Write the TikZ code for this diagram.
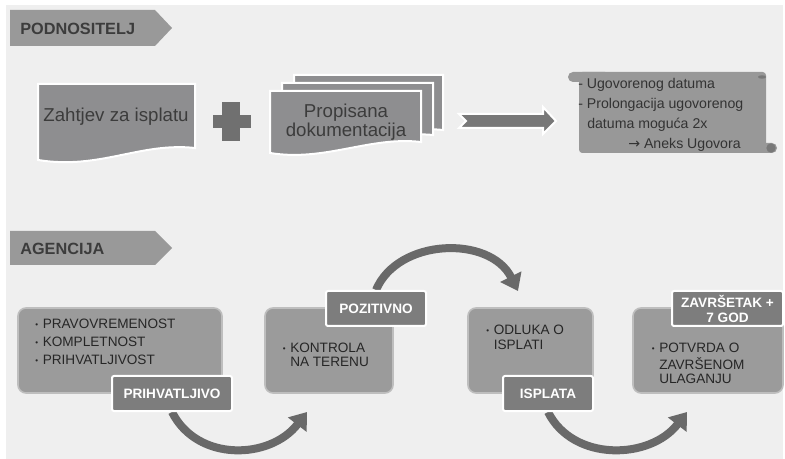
\documentclass[tikz,border=0pt]{standalone}
\usepackage{fontspec}
\setmainfont{Liberation Sans}
\newfontfamily\symfont{DejaVu Sans}
\usetikzlibrary{arrows.meta,backgrounds}

\definecolor{bggray}{RGB}{239,239,239}
\definecolor{headgray}{RGB}{153,153,153}
\definecolor{docgray}{RGB}{142,142,144}
\definecolor{plusgray}{RGB}{112,112,112}
\definecolor{boxgray}{RGB}{155,155,155}
\definecolor{boxline}{RGB}{190,190,190}
\definecolor{taggray}{RGB}{125,125,125}
\definecolor{arrgray}{RGB}{105,105,105}
\definecolor{textgray}{RGB}{60,60,60}
\definecolor{scrollgray}{RGB}{152,152,152}
\definecolor{scrolldark}{RGB}{120,120,120}

% bullet hanging to the left of a list line
\newcommand{\stavka}{\llap{\raisebox{1pt}{\fontsize{6}{6}\selectfont •}\hspace{3.5pt}}}

\tikzset{every picture/.style={line width=0.75pt},
  docpage/.style={fill=docgray, draw=white, line width=1.5pt},
  doctext/.style={text=textgray, align=center, font=\fontsize{14}{14.25}\selectfont},
  header/.style={fill=headgray},
  headtext/.style={anchor=west, inner sep=0pt, text=textgray, font=\fontsize{12.2}{14}\selectfont\bfseries},
  stagebox/.style={fill=boxgray, draw=boxline, line width=1.2pt, rounded corners=6pt, minimum height=63.75pt},
  tag/.style={fill=taggray, draw=white, line width=1.5pt, rounded corners=1.5pt, text=white, align=center,
    font=\fontsize{10.2}{11.25}\selectfont\bfseries, minimum height=26.25pt, inner sep=2pt},
  list/.style={anchor=base west, inner sep=0pt, text=black!85, font=\fontsize{10.2}{10.5}\selectfont},
  flow/.style={draw=arrgray, line width=6pt, -{Triangle[length=12pt,width=17pt]}}
}

\begin{document}
\begin{tikzpicture}[x=0.75pt,y=0.75pt,yscale=-1,xscale=1]
\path[use as bounding box] (0,0) rectangle (785,459);
\begin{pgfonlayer}{background}
\fill[white] (0,0) rectangle (785,459);
\fill[bggray] (6,5) rectangle (783,459);
\end{pgfonlayer}

%Header tags
\fill[header] (10,10) -- (155,10) -- (172,28) -- (155,46) -- (10,46) -- cycle;
\node[headtext] (podnositelj) at (20,29) {PODNOSITELJ};
\fill[header] (10,231) -- (155,231) -- (172,248) -- (155,265) -- (10,265) -- cycle;
\node[headtext] (agencija) at (20,249) {AGENCIJA};

%Document: request
\draw[docpage] (38,84) -- (195,84) -- (195,148) .. controls (140,142) and (100,170) .. (38,160) -- cycle;
\node[doctext] (zahtjev) at (116,117) {Zahtjev za isplatu};

%Plus
\fill[plusgray] (222,102) rectangle (240,141);
\fill[plusgray] (213,115) rectangle (251,128);

%Document stack
\draw[docpage] (294,75) -- (443,75) -- (443,130) .. controls (400,125) and (340,150) .. (294,142) -- cycle;
\draw[docpage] (282,83) -- (433,83) -- (433,135) .. controls (385,130) and (330,158) .. (282,148) -- cycle;
\draw[docpage] (270,91) -- (421,91) -- (421,142) .. controls (370,136) and (325,162) .. (270,153) -- cycle;
\node[doctext] (propisana) at (346,122) {Propisana\\dokumentacija};

%Notched arrow
\draw[fill=arrgray!90, draw=white, line width=1.5pt] (459,114) -- (543,114) -- (543,107) -- (556,121)
  -- (543,134) -- (543,128) -- (459,128) -- (466,121) -- cycle;

%Scroll
\fill[scrollgray, rounded corners=2.5pt] (579,72) rectangle (766,153);
\fill[scrollgray, rounded corners=3.75pt] (568,72) rectangle (610,82);
\fill[scrollgray, rounded corners=3.75pt] (735,143) rectangle (777,153);
\fill[scrolldark] (771,148) circle[radius=3.5pt];
\fill[scrolldark] (762,77) ellipse[x radius=3pt, y radius=1.3pt];
\node[anchor=base west, inner sep=0pt, text=black!80, font=\fontsize{10.6}{15}\selectfont] (rok) at (578,89)
  {\begin{tabular}[t]{@{}l@{}}
   - Ugovorenog datuma\\
   - Prolongacija ugovorenog\\
   \hspace*{6.75pt}datuma moguća 2x\\
   \hspace*{37.5pt}{\symfont →} Aneks Ugovora
   \end{tabular}};

%Stage boxes
\node[stagebox, minimum width=153pt] (pregled) at (120,350.5) {};
\node[stagebox, minimum width=96pt] (kontrola) at (329,350.5) {};
\node[stagebox, minimum width=93.75pt] (odluka) at (530.5,350.5) {};
\node[stagebox, minimum width=112.5pt] (potvrda) at (708,350.5) {};

\node[list, font=\fontsize{10.2}{13.5}\selectfont] (pregled-lista) at (42.5,329)
  {\begin{tabular}[t]{@{}l@{}}\stavka PRAVOVREMENOST\\ \stavka KOMPLETNOST\\ \stavka PRIHVATLJIVOST\end{tabular}};
\node[list] (kontrola-lista) at (290,353)
  {\begin{tabular}[t]{@{}l@{}}\stavka KONTROLA\\ NA TERENU\end{tabular}};
\node[list] (odluka-lista) at (493.5,335)
  {\begin{tabular}[t]{@{}l@{}}\stavka ODLUKA O\\ ISPLATI\end{tabular}};
\node[list] (potvrda-lista) at (659,353)
  {\begin{tabular}[t]{@{}l@{}}\stavka POTVRDA O\\ ZAVRŠENOM\\ ULAGANJU\end{tabular}};

%Tags
\node[tag, minimum width=90pt] (prihvatljivo) at (172,393.5) {PRIHVATLJIVO};
\node[tag, minimum width=75pt] (pozitivno) at (376,308.5) {POZITIVNO};
\node[tag, minimum width=67.5pt] (isplata) at (548,393.5) {ISPLATA};
\node[tag, minimum width=83.25pt] (zavrsetak) at (727.5,308.5) {ZAVRŠETAK +\\7 GOD};

%Flow arrows
\coordinate (kontrola-ulaz) at (307,412);
\coordinate (odluka-ulaz) at (518,291);
\coordinate (potvrda-ulaz) at (687,412);
\begin{pgfonlayer}{background}
\draw[flow] (prihvatljivo.south) .. controls +(25,50) and +(-37,48) .. (kontrola-ulaz);
\draw[flow] (pozitivno.north) .. controls +(22,-52) and +(-28,-56) .. (odluka-ulaz);
\draw[flow] (isplata.south) .. controls +(25,50) and +(-37,48) .. (potvrda-ulaz);
\end{pgfonlayer}

\end{tikzpicture}
\end{document}
